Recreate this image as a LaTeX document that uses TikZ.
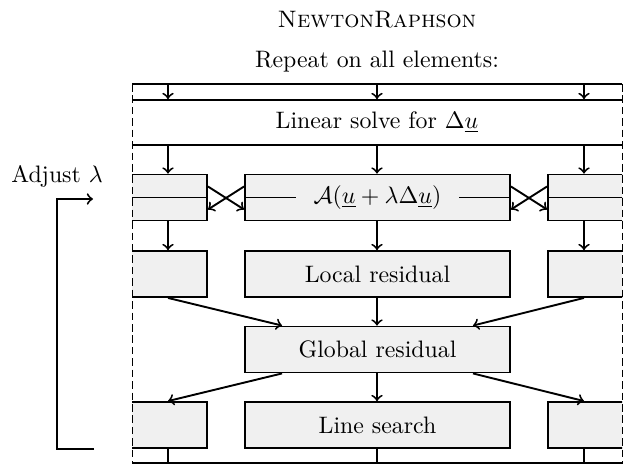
\documentclass[tikz,border=0pt]{standalone}
\usepackage{amsmath,amssymb}
\usetikzlibrary{calc}

\begin{document}
\begin{tikzpicture}[x=0.42pt,y=-0.42pt,>=to,
  box/.style={draw, thick, fill=black!6, inner sep=0pt, minimum height=19.3pt},
  wide/.style={box, minimum width=111.3pt},
  side/.style={box, minimum width=63pt}]
  \useasboundingbox (0,0) rectangle (624,464);

  % Titles
  \node (title) at (377,20) {\textsc{NewtonRaphson}};
  \node (rep) at (377,62) {Repeat on all elements:};

  \begin{scope}
    \clip (132,70) rectangle (622,470);

    % Boxes
    \node[box, fill=none, minimum width=235pt, minimum height=18.9pt] (lin) at (377,122.5) {Linear solve for $\Delta\underline{u}$};
    \node[side] (l2) at (132,197.5) {};
    \node[wide] (m2) at (377.5,197.5) {$\mathcal{A}(\underline{u}+\lambda\Delta\underline{u})$};
    \node[side] (r2) at (623,197.5) {};
    \node[side] (l3) at (132,274) {};
    \node[wide] (m3) at (377.5,274) {Local residual};
    \node[side] (r3) at (623,274) {};
    \node[wide] (g) at (377.5,349.5) {Global residual};
    \node[side] (l5) at (132,425) {};
    \node[wide] (m5) at (377.5,425) {Line search};
    \node[side] (r5) at (623,425) {};

    % Top and bottom lines
    \coordinate (topL) at (132,84);
    \coordinate (topR) at (622,84);
    \coordinate (botL) at (132,463);
    \coordinate (botR) at (622,463);
    \draw[thick] (topL) -- (topR);
    \draw[thick] (botL) -- (botR);

    % Columns
    \coordinate (ca) at (168,0);
    \coordinate (cb) at (377,0);
    \coordinate (cc) at (584,0);
    \foreach \c/\two/\three/\five in {ca/l2/l3/l5, cb/m2/m3/m5, cc/r2/r3/r5} {
      \draw[thick,->] (\c |- topL) -- (\c |- lin.north);
      \draw[thick,->] (\c |- lin.south) -- (\c |- \two.north);
      \draw[thick,->] (\c |- \two.south) -- (\c |- \three.north);
      \draw[thick] (\c |- \five.south) -- (\c |- botL);
    }

    % Lines inside the update row
    \draw[thick] (l2.west) -- (l2.east);
    \draw[thick] (r2.west) -- (r2.east);
    \draw[thick] (m2.west) -- ++(52,0);
    \draw[thick] (m2.east) -- ++(-52,0);

    % Exchange with neighbours
    \draw[thick,->] ($(l2.east)+(0,-11)$) -- ($(m2.west)+(0,12)$);
    \draw[thick,->] ($(m2.west)+(0,-11)$) -- ($(l2.east)+(0,12)$);
    \draw[thick,->] ($(r2.west)+(0,-11)$) -- ($(m2.east)+(0,12)$);
    \draw[thick,->] ($(m2.east)+(0,-11)$) -- ($(r2.west)+(0,12)$);

    % To and from the global residual
    \draw[thick,->] (ca |- l3.south) -- ($(g.north west)+(38,0)$);
    \draw[thick,->] (cb |- m3.south) -- (cb |- g.north);
    \draw[thick,->] (cc |- r3.south) -- ($(g.north east)+(-38,0)$);
    \draw[thick,->] ($(g.south west)+(38,0)$) -- (ca |- l5.north);
    \draw[thick,->] (cb |- g.south) -- (cb |- m5.north);
    \draw[thick,->] ($(g.south east)+(-38,0)$) -- (cc |- r5.north);
  \end{scope}

  % Dashed borders
  \draw[dash pattern=on 3.2pt off 1.6pt] (topL) -- (132,464);
  \draw[dash pattern=on 3.2pt off 1.6pt] (topR) -- (622,464);

  % Feedback
  \node (adj) at (57,176) {Adjust $\lambda$};
  \coordinate (fbs) at (94,449);
  \coordinate (fbe) at (93,199);
  \draw[thick,->] (fbs) -- (fbs -| adj) |- (fbe);
\end{tikzpicture}
\end{document}
